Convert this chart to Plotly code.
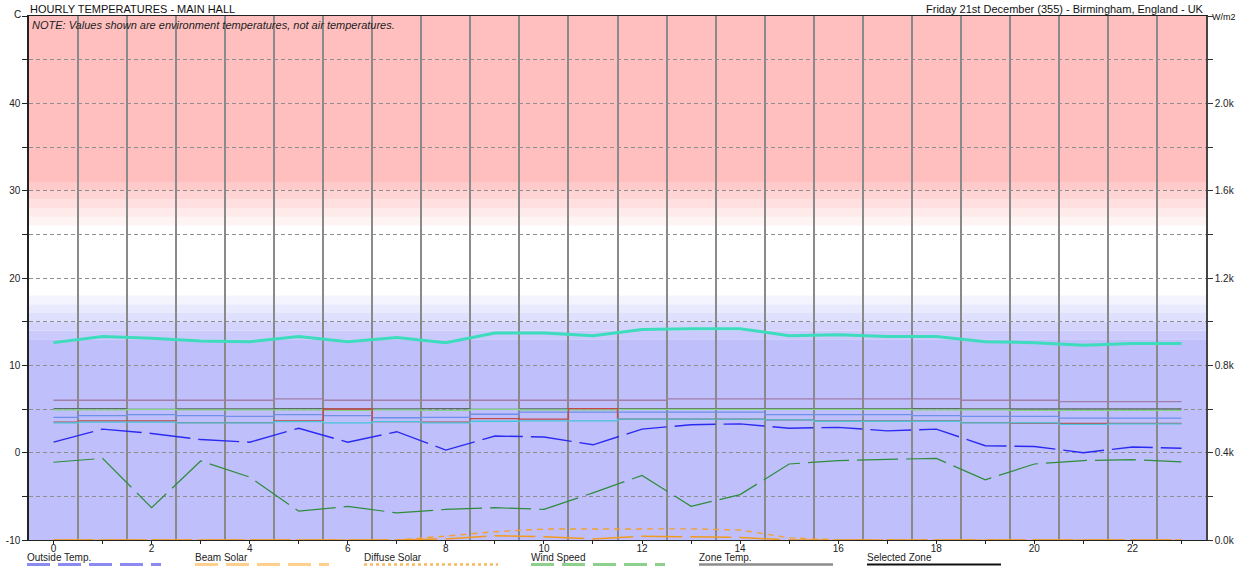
import plotly.graph_objects as go

# ---------------- data ----------------
hours = list(range(24))
x_labels = [str(h) if h % 2 == 0 else "" for h in hours]

selected_zone = [12.6, 13.3, 13.1, 12.8, 12.7, 13.3, 12.7, 13.2, 12.6, 13.7, 13.7, 13.4,
                 14.1, 14.2, 14.2, 13.4, 13.5, 13.3, 13.3, 12.7, 12.6, 12.3, 12.5, 12.5]
outside_temp = [1.2, 2.7, 2.2, 1.5, 1.2, 2.8, 1.2, 2.4, 0.3, 1.9, 1.8, 0.9,
                2.7, 3.2, 3.3, 2.8, 2.9, 2.5, 2.7, 0.8, 0.7, 0.0, 0.65, 0.5]
wind_speed = [-1.1, -0.65, -6.3, -0.95, -2.8, -6.7, -6.15, -6.9, -6.5, -6.3, -6.5, -4.6,
              -2.6, -6.15, -4.8, -1.3, -0.9, -0.8, -0.65, -3.1, -1.3, -0.9, -0.8, -1.05]
beam_solar = [0, 0, 0, 0, 0, 0, 0, 0, 5, 20, 15, 5, 17, 14, 12, 0, 0, 0, 0, 0, 0, 0, 0, 0]
diffuse_solar = [0, 0, 0, 0, 0, 0, 0, 0, 18, 38, 50, 51, 52, 51, 46, 10, 0, 0, 0, 0, 0, 0, 0, 0]

zone_mauve = [6.0, 6.0, 6.0, 6.0, 6.0, 6.15, 6.0, 6.0, 6.0, 6.0, 6.0, 6.0,
              6.0, 6.15, 6.15, 6.15, 6.15, 6.15, 6.15, 6.0, 6.0, 5.85, 5.85, 5.85]
zone_grey = [5.05, 5.05, 4.95, 5.0, 5.0, 5.05, 5.0, 5.0, 5.05, 4.95, 5.0, 5.05,
             5.05, 5.05, 5.05, 5.05, 5.05, 5.05, 5.05, 5.0, 5.0, 5.0, 5.0, 5.0]
zone_green = [4.9, 4.9, 4.95, 4.9, 4.9, 4.9, 4.85, 4.9, 4.85, 4.95, 4.9, 4.9,
              4.95, 4.95, 4.95, 4.95, 4.95, 4.95, 4.9, 4.9, 4.85, 4.85, 4.85, 4.85]
zone_blue = [4.05, 4.25, 4.35, 4.25, 4.15, 4.35, 4.25, 4.0, 4.05, 4.4, 4.65, 4.65,
             4.65, 4.65, 4.65, 4.35, 4.35, 4.35, 4.25, 4.15, 4.15, 3.95, 3.95, 3.95]
zone_red = [3.5, 3.65, 3.65, 3.45, 3.45, 3.65, 5.0, 3.55, 3.5, 3.9, 3.85, 5.05,
            3.85, 3.85, 3.85, 3.75, 3.65, 3.65, 3.65, 3.45, 3.35, 3.35, 3.35, 3.35]
zone_cyan = [3.4, 3.5, 3.5, 3.4, 3.4, 3.55, 3.4, 3.55, 3.4, 3.6, 3.65, 3.65,
             3.85, 3.85, 3.85, 3.75, 3.6, 3.6, 3.6, 3.4, 3.4, 3.25, 3.3, 3.3]

left_ticks = list(range(-10, 51, 5))
left_labels = [str(v) if v % 10 == 0 and v < 50 else "" for v in left_ticks]
right_ticks = list(range(0, 2401, 200))
right_labels = [f"{v/1000:.1f}k" if v % 400 == 0 and v < 2400 else "" for v in right_ticks]

# comfort bands (temperature thresholds)
cold_solid_top = 13
cold_fade_top = 18
hot_fade_bottom = 26
hot_solid_bottom = 31
y_min, y_max = -10, 50

legend_items = ["Outside Temp.", "Beam Solar", "Diffuse Solar", "Wind Speed", "Zone Temp.", "Selected Zone"]

# ---------------- figure ----------------
FONT = "Liberation Sans, Arial, sans-serif"
fig = go.Figure()

zone_series = [
    (zone_mauve, "#a07ea6"),
    (zone_grey, "#5e6a6a"),
    (zone_green, "#86d486"),
    (zone_blue, "#6f8fe8"),
    (zone_red, "#c44848"),
    (zone_cyan, "#46c4d8"),
]
for vals, col in zone_series:
    fig.add_trace(go.Scatter(x=hours, y=vals, mode="lines", line=dict(color=col, width=1.3, shape="hvh"),
                             hoverinfo="skip", showlegend=False))

fig.add_trace(go.Scatter(x=hours, y=selected_zone, mode="lines", line=dict(color="#3ddcbc", width=3),
                         name="Selected Zone", showlegend=False))
fig.add_trace(go.Scatter(x=hours, y=outside_temp, mode="lines",
                         line=dict(color="#2a2af2", width=1.4, dash="41px,8px"), name="Outside Temp.", showlegend=False))
fig.add_trace(go.Scatter(x=hours, y=wind_speed, mode="lines",
                         line=dict(color="#2e8c3a", width=1.2, dash="41px,8px"), name="Wind Speed", showlegend=False))
fig.add_trace(go.Scatter(x=hours, y=diffuse_solar, mode="lines", yaxis="y2",
                         line=dict(color="#f5a030", width=1.4, dash="6px,5px"), name="Diffuse Solar", showlegend=False))
fig.add_trace(go.Scatter(x=hours, y=beam_solar, mode="lines", yaxis="y2",
                         line=dict(color="#f29a1e", width=1.5, dash="41px,8px"), name="Beam Solar", showlegend=False))

# background bands
shapes = []
def mix(c, f):
    return "rgb(%d,%d,%d)" % tuple(round(255 + (ci - 255) * f) for ci in c)
blue = (191, 191, 252)
pink = (255, 191, 191)
shapes.append(dict(type="rect", xref="paper", yref="y", x0=0, x1=1, y0=y_min, y1=cold_solid_top,
                   fillcolor=mix(blue, 1), line_width=0, layer="below"))
n = cold_fade_top - cold_solid_top
for i in range(n):
    lo = cold_solid_top + i
    shapes.append(dict(type="rect", xref="paper", yref="y", x0=0, x1=1, y0=lo, y1=lo + 1,
                       fillcolor=mix(blue, (n - i) / (n + 1)), line_width=0, layer="below"))
n = hot_solid_bottom - hot_fade_bottom
for i in range(n):
    lo = hot_fade_bottom + i
    shapes.append(dict(type="rect", xref="paper", yref="y", x0=0, x1=1, y0=lo, y1=lo + 1,
                       fillcolor=mix(pink, (i + 1) / (n + 1)), line_width=0, layer="below"))
shapes.append(dict(type="rect", xref="paper", yref="y", x0=0, x1=1, y0=hot_solid_bottom, y1=y_max,
                   fillcolor=mix(pink, 1), line_width=0, layer="below"))

PW = 1177.0
PH = 524.0
def px2x(p):
    return (p - 29) / PW
def py2y(p):
    return (540 - p) / PH
leg_x = [27, 195, 364, 531, 699, 867]
leg_len = 134
leg_styles = [
    dict(color="#8a8af0", width=3, dash="23px,8px"),
    dict(color="#ffcf8e", width=3, dash="23px,8px"),
    dict(color="#f8b860", width=2.5, dash="3px,3px"),
    dict(color="#8ecf8e", width=3, dash="23px,8px"),
    dict(color="#8c8c8c", width=2.5, dash="solid"),
    dict(color="#111111", width=2, dash="solid"),
]
annotations = []
for lbl, lx, st in zip(legend_items, leg_x, leg_styles):
    annotations.append(dict(text=lbl, xref="paper", yref="paper", x=px2x(lx - 2), y=py2y(557),
                            xanchor="left", yanchor="middle", showarrow=False,
                            font=dict(size=10, color="#222", family=FONT)))
    shapes.append(dict(type="line", xref="paper", yref="paper", x0=px2x(lx), x1=px2x(lx + leg_len),
                       y0=py2y(564.5), y1=py2y(564.5), line=st))

annotations += [
    dict(text="HOURLY TEMPERATURES - MAIN HALL", xref="paper", yref="paper", x=px2x(28), y=py2y(9),
         xanchor="left", yanchor="middle", showarrow=False, font=dict(size=11, color="#111", family=FONT)),
    dict(text="Friday 21st December (355) - Birmingham, England - UK", xref="paper", yref="paper",
         x=px2x(1206), y=py2y(9), xanchor="right", yanchor="middle", showarrow=False,
         font=dict(size=11, color="#111", family=FONT)),
    dict(text="C", xref="paper", yref="paper", x=px2x(17), y=py2y(15), xanchor="center", yanchor="middle",
         showarrow=False, font=dict(size=10, color="#111", family=FONT)),
    dict(text="W/m2", xref="paper", yref="paper", x=px2x(1210), y=py2y(17), xanchor="left", yanchor="middle",
         showarrow=False, font=dict(size=9, color="#111", family=FONT)),
    dict(text="<i>NOTE: Values shown are environment temperatures, not air temperatures.</i>",
         xref="paper", yref="paper", x=px2x(30), y=py2y(25), xanchor="left", yanchor="middle",
         showarrow=False, font=dict(size=11, color="#222", family=FONT)),
]

fig.update_layout(
    width=1251, height=567,
    margin=dict(l=29, r=45, t=16, b=27, autoexpand=False),
    paper_bgcolor="white", plot_bgcolor="white",
    font=dict(family=FONT, size=10, color="#222"),
    shapes=shapes, annotations=annotations, showlegend=False,
    xaxis=dict(range=[-0.5, 23.5], tickmode="array", tickvals=hours, ticktext=x_labels,
               ticks="outside", ticklen=3, tickcolor="#222", showgrid=False, zeroline=False,
               showline=True, linecolor="#222", linewidth=1, mirror=True, automargin=False,
               ticklabelstandoff=-4,
               tickfont=dict(size=10, color="#222"),
               minor=dict(tickmode="array", tickvals=[h + 0.5 for h in hours[:-1]], showgrid=True,
                          gridcolor="#8a8a8a", gridwidth=2, ticks="")),
    yaxis=dict(range=[y_min, y_max], tickmode="array", tickvals=left_ticks, ticktext=left_labels,
               ticks="outside", ticklen=5, tickcolor="#222", showgrid=True, gridcolor="#8e8e8e",
               griddash="4px,3px", gridwidth=1, zeroline=False, showline=True, linecolor="#222",
               linewidth=1.5, automargin=False, tickfont=dict(size=10, color="#222")),
    yaxis2=dict(range=[0, 2400], overlaying="y", side="right", tickmode="array", tickvals=right_ticks,
                ticktext=right_labels, ticks="outside", ticklen=5, tickcolor="#333", showgrid=False,
                zeroline=False, showline=True, linecolor="#444", linewidth=1.5, automargin=False,
                tickfont=dict(size=10, color="#222")),
)

# remove the default 8px page margin so the figure sits at the window origin
fig.write_html("out.html", config={"displayModeBar": False},
               post_script="document.body.style.margin='0';document.body.style.overflow='hidden';")
